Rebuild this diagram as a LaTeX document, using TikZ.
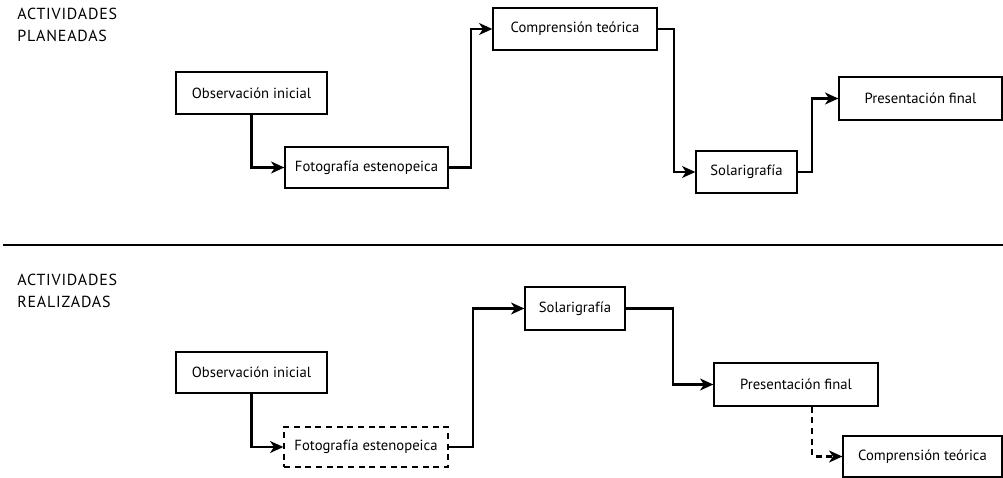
\documentclass[tikz,border=0pt]{standalone}
\usepackage{fontspec}
\setmainfont{PT Sans}
\usetikzlibrary{arrows.meta}
\begin{document}
\begin{tikzpicture}[x=0.75pt,y=-0.75pt,
  every node/.style={font=\fontsize{11}{13}\selectfont},
  box/.style={draw, line width=1pt, inner sep=0pt, minimum height=31.5pt},
  dbox/.style={box, dash pattern=on 4.5pt off 3.5pt},
  link/.style={line width=1.6pt, -{Stealth[length=10pt,width=9pt,inset=3pt]}},
  dlink/.style={link, dash pattern=on 4.5pt off 3.5pt},
  heading/.style={align=left, anchor=north west, inner sep=0pt,
    font=\fontsize{12}{16.5}\selectfont\addfontfeatures{LetterSpace=5}}
]
\useasboundingbox (0,0) rectangle (1003,478);

% planned activities
\node[heading] (lab1) at (17,8) {ACTIVIDADES\\PLANEADAS};
\node[box, minimum width=113.25pt] (obs1)  at (251.5,93)  {Observación inicial};
\node[box, minimum width=122.25pt, minimum height=30.75pt] (foto1) at (366.5,167.5) {Fotografía estenopeica};
\node[box, minimum width=123pt] (comp1) at (575,29) {Comprensión teórica};
\node[box, minimum width=75.75pt] (sol1)  at (746.5,172) {Solarigrafía};
\node[box, minimum width=122.25pt, minimum height=32.25pt] (pres1) at (920.5,98.5) {Presentación final};

\draw[link] (obs1.south) |- (foto1.west);
\draw[link] (foto1.east) -- ++(22,0) |- (comp1.west);
\draw[link] (comp1.east) -- ++(16,0) |- (sol1.west);
\draw[link] (sol1.east) -- ++(14,0) |- (pres1.west);

% separator
\draw[line width=1.6pt] (3,245) -- (1003,245);

% realised activities
\node[heading] (lab2) at (17,274) {ACTIVIDADES\\REALIZADAS};
\node[box, minimum width=113.25pt, minimum height=30.75pt] (obs2) at (251.5,372.5) {Observación inicial};
\node[dbox, minimum width=123pt, minimum height=30pt] (foto2) at (366,447) {Fotografía estenopeica};
\node[box, minimum width=75pt, minimum height=32.25pt] (sol2) at (575,308.5) {Solarigrafía};
\node[box, minimum width=123pt, minimum height=32.25pt] (pres2) at (796,384.5) {Presentación final};
\node[box, minimum width=119.25pt, minimum height=30.75pt] (comp2) at (922.5,456.5) {Comprensión teórica};

\draw[link] (obs2.south) |- (foto2.west);
\draw[link] (foto2.east) -- ++(24,0) |- (sol2.west);
\draw[link] (sol2.east) -- ++(47,0) |- (pres2.west);
\draw[dlink] ([xshift=12pt]pres2.south) |- (comp2.west);
\end{tikzpicture}
\end{document}
